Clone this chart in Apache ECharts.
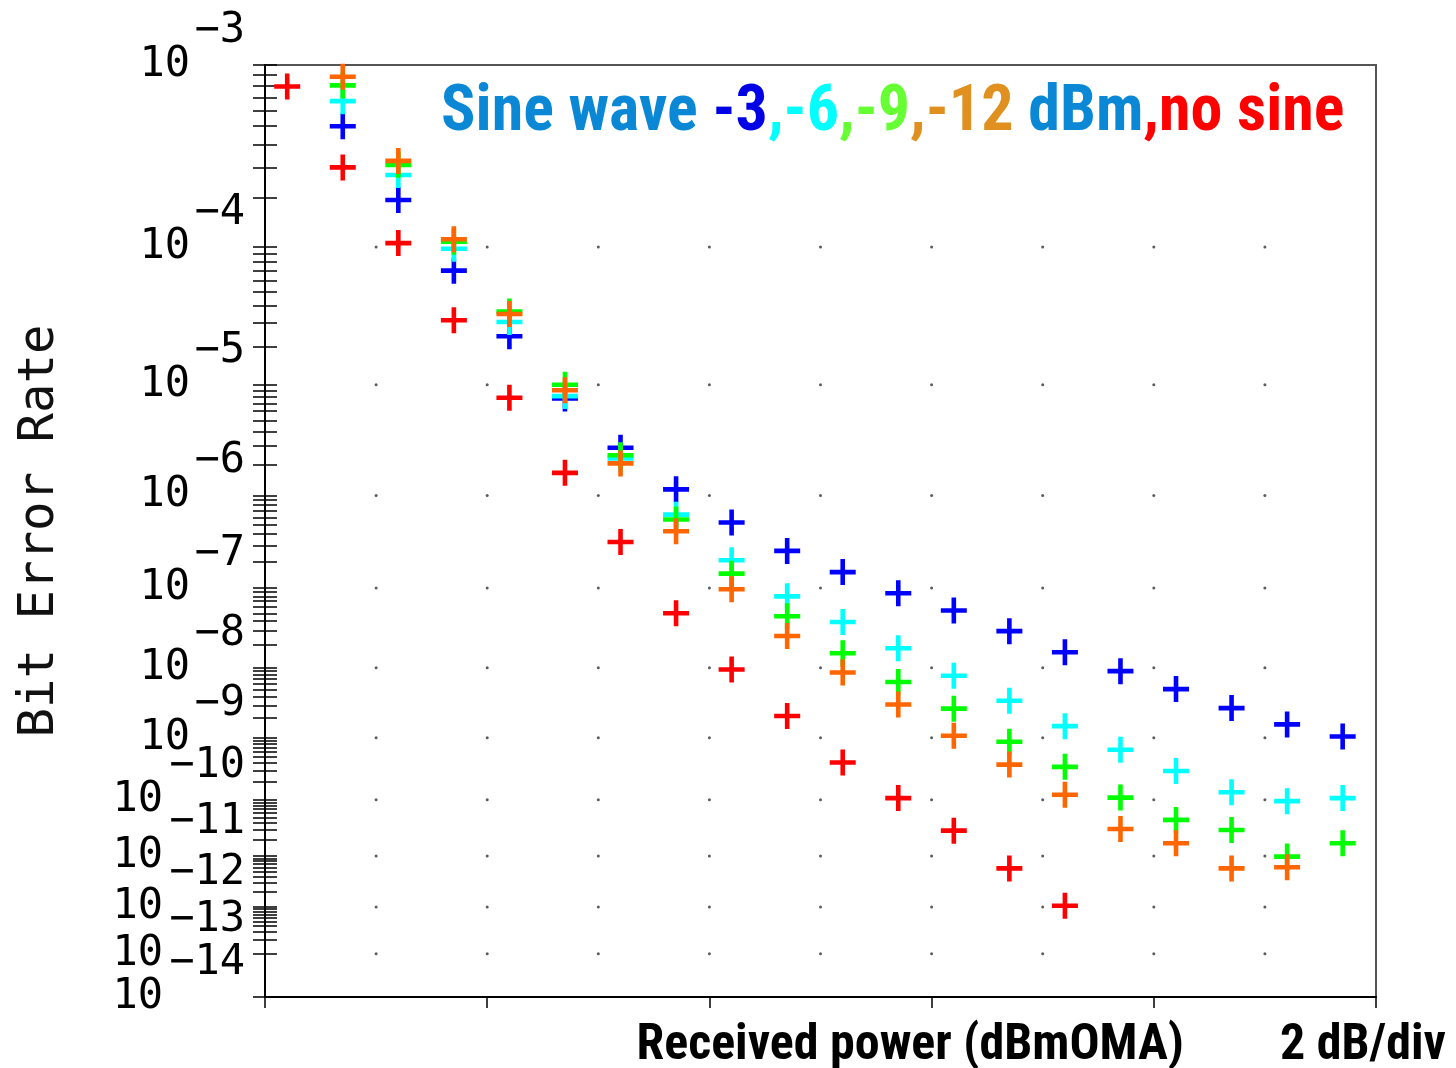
<!DOCTYPE html>
<html>
<head>
<meta charset="utf-8">
<script src="https://cdn.jsdelivr.net/npm/echarts@6/dist/echarts.min.js"></script>
<style>
html,body{margin:0;padding:0;background:#fff;}
#chart{width:1456px;height:1068px;}
</style>
</head>
<body>
<div id="chart"></div>
<script>
// ---- data (received power offset in dB from left edge of axis, BER values) ----
const powerDb = [0.2,0.7,1.2,1.7,2.2,2.7,3.2,3.7,4.2,4.7,5.2,5.7,6.2,6.7,7.2,7.7,8.2,8.7,9.2,9.7];
const berSine3dBm  = [null,5.0e-4,1.95e-4,7.0e-5,2.4e-5,7.7e-6,2.85e-6,1.15e-6,5.3e-7,2.64e-7,1.53e-7,8.7e-8,5.4e-8,3.0e-8,1.61e-8,9.0e-9,5.1e-9,2.74e-9,1.58e-9,1.04e-9];
const berSine6dBm  = [null,6.7e-4,2.72e-4,9.75e-5,3.06e-5,8.05e-6,2.27e-6,6.4e-7,2.08e-7,8.0e-8,3.9e-8,1.81e-8,7.8e-9,3.5e-9,1.49e-9,6.5e-10,3.0e-10,1.34e-10,9.5e-11,1.07e-10];
const berSine9dBm  = [null,8.0e-4,3.1e-4,1.08e-4,3.64e-5,1.0e-5,2.43e-6,5.7e-7,1.47e-7,4.6e-8,1.56e-8,6.4e-9,2.69e-9,8.65e-10,3.5e-10,1.09e-10,4.5e-11,2.98e-11,9.7e-12,1.71e-11];
const berSine12dBm = [null,8.8e-4,3.26e-4,1.12e-4,3.5e-5,9.0e-6,2.04e-6,4.3e-7,9.7e-8,2.6e-8,8.65e-9,3.08e-9,1.07e-9,3.8e-10,1.22e-10,3.1e-11,1.71e-11,5.8e-12,6.1e-12];
const berNoSine    = [7.9e-4,3.0e-4,1.06e-4,3.15e-5,7.8e-6,1.66e-6,3.3e-7,5.0e-8,9.5e-9,2.1e-9,4.1e-10,1.07e-10,2.9e-11,5.8e-12,1.06e-12];

const decadeExponents = [3,4,5,6,7,8,9,10,11,12,13,14];   // y tick labels 10^-n
const gridDotDb = [1,2,3,4,5,6,7,8,9];                    // dotted grid columns (dB)
const gridDotExponents = [4,5,6,7,8,9,10,11,12,13];        // dotted grid rows (10^-n)
const xTickInterval = 2;                                   // 2 dB/div

// ---- BER scale: log(-log10(BER) - c) ----
const SCALE_C = 0.35;
function fq(ber){ return Math.log10(-Math.log10(ber) - SCALE_C); }
function expOf(v){ return Math.round(Math.pow(10, v) + SCALE_C); }

const yMin = fq(1e-3), yMax = fq(1e-14);
const labelVals = decadeExponents.map(n => fq(Math.pow(10, -n)));
const tickVals = [];
for (let n = 3; n <= 13; n++) for (let m = 1; m <= 9; m++) tickVals.push(fq(m * Math.pow(10, -n)));
tickVals.push(fq(1e-14));

function toPts(arr){
  const out = [];
  arr.forEach((b, i) => { if (b != null) out.push([powerDb[i], fq(b)]); });
  return out;
}
const dots = [];
gridDotExponents.forEach(n => gridDotDb.forEach(x => dots.push([x, fq(Math.pow(10, -n))])));

const PLUS = 'path://M10.7,0h4.6v10.7h10.7v4.6h-10.7v10.7h-4.6v-10.7h-10.7v-4.6h10.7z';
const monoFont = "'DejaVu Sans Mono', 'Liberation Mono', monospace";
const narrowFont = "'Liberation Sans Narrow', 'Roboto Condensed', 'Arial Narrow', 'Liberation Sans', sans-serif";

function mk(name, color, arr){
  return { name, type:'scatter', data: toPts(arr), symbol: PLUS, symbolSize: 26,
    itemStyle:{ color, opacity:1 }, z: 3, silent: true };
}

const chart = echarts.init(document.getElementById('chart'), null, {renderer:'canvas'});
chart.setOption({
  animation: false,
  backgroundColor: '#fff',
  title: {
    text: '{s|Sine wave }{b|-3}{c|,-6}{g|,-9}{o|,-12}{s| dBm}{r|,no sine}',
    left: 436, top: 77,
    textStyle: {
      rich: {
        s:{color:'#0a88d6', fontSize:64, fontWeight:'bold', fontFamily:narrowFont},
        b:{color:'#0000e6', fontSize:64, fontWeight:'bold', fontFamily:narrowFont},
        c:{color:'#00ffff', fontSize:64, fontWeight:'bold', fontFamily:narrowFont},
        g:{color:'#66ff33', fontSize:64, fontWeight:'bold', fontFamily:narrowFont},
        o:{color:'#e0901e', fontSize:64, fontWeight:'bold', fontFamily:narrowFont},
        r:{color:'#ff0000', fontSize:64, fontWeight:'bold', fontFamily:narrowFont}
      }
    }
  },
  grid: { left: 265, right: 80, top: 65, bottom: 71, containLabel: false, outerBoundsMode: 'none',
          show: true, borderColor: '#555', borderWidth: 2, backgroundColor: 'transparent' },
  xAxis: {
    type: 'value', min: 0, max: 10, interval: xTickInterval,
    axisLine: { show: true, onZero: false, lineStyle: { color: '#000', width: 2 } },
    axisTick: { show: true, length: 11, lineStyle: { color: '#000', width: 1.5 } },
    axisLabel: { show: false },
    splitLine: { show: false },
    name: '{a|Received power (dBmOMA)}{b|2 dB/div}',
    nameLocation: 'end', nameGap: 70,
    nameTextStyle: {
      align: 'right', verticalAlign: 'top', padding: [24, 0, 0, 0],
      rich: {
        a:{fontSize:50, fontWeight:'bold', color:'#000', fontFamily:narrowFont},
        b:{fontSize:50, fontWeight:'bold', color:'#000', fontFamily:narrowFont, padding:[0,0,0,96]}
      }
    }
  },
  yAxis: [
    {
      type: 'value', inverse: true, min: yMin, max: yMax, position: 'left',
      axisLine: { show: true, lineStyle: { color: '#000', width: 2 } },
      axisTick: { show: true, inside: false, length: 12, customValues: tickVals, lineStyle: { color: '#000', width: 1.5 } },
      axisLabel: {
        show: true, customValues: labelVals, margin: 75,
        formatter: v => expOf(v) >= 10 ? '{w|10}' : '{n|10}',
        rich: {
          n:{fontFamily:monoFont, fontSize:42, color:'#000'},
          w:{fontFamily:monoFont, fontSize:42, color:'#000', padding:[0,27,0,0]}
        }
      },
      splitLine: { show: false },
      name: 'Bit Error Rate', nameLocation: 'middle', nameGap: 200,
      nameTextStyle: { fontFamily: monoFont, fontSize: 49, color: '#111' }
    },
    {
      type: 'value', inverse: true, min: yMin, max: yMax, position: 'left',
      axisLine: { show: false },
      axisTick: { show: true, inside: true, length: 12, customValues: tickVals, lineStyle: { color: '#000', width: 1.5 } },
      axisLabel: {
        show: true, customValues: labelVals, margin: 20,
        formatter: v => '{e|\u2212' + expOf(v) + '}',
        rich: {
          e:{fontFamily:monoFont, fontSize:42, color:'#000', padding:[0,0,68,0]}
        }
      },
      splitLine: { show: false }
    }
  ],
  series: [
    { name:'grid', type:'scatter', data: dots, symbol:'circle', symbolSize: 3,
      itemStyle:{ color:'#333' }, z: 1, silent: true },
    mk('-3 dBm', '#0000ff', berSine3dBm),
    mk('-6 dBm', '#00ffff', berSine6dBm),
    mk('-9 dBm', '#00ff00', berSine9dBm),
    mk('-12 dBm', '#ff6600', berSine12dBm),
    mk('no sine', '#ff0000', berNoSine)
  ]
});
</script>
</body>
</html>
